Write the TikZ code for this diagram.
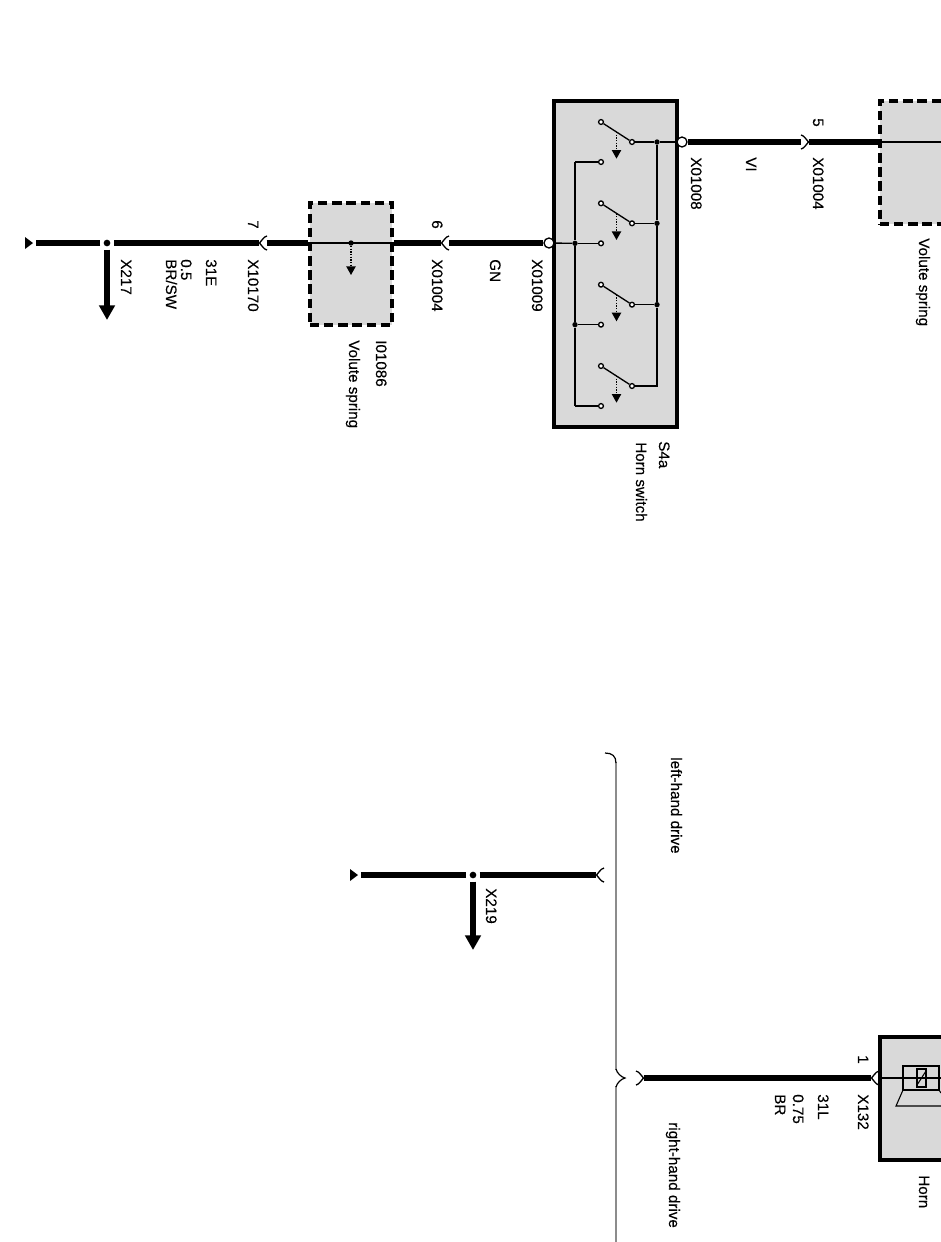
\documentclass[tikz,border=0pt]{standalone}
\usepackage{fontspec}
\setmainfont[FakeBold=0.2]{Liberation Sans}
\usetikzlibrary{positioning}
\usetikzlibrary{arrows.meta}
\usetikzlibrary{shapes.geometric}
\definecolor{boxgray}{gray}{0.85}
\definecolor{bracegray}{gray}{0.55}
\tikzset{
  lbl/.style={rotate=-90,anchor=base west,inner sep=0,font=\fontsize{11.4}{13}\selectfont},
  wire/.style={line width=4.2pt},
  thinwire/.style={line width=1pt},
  solidbox/.style={draw,line width=2.4pt,fill=boxgray,inner sep=0},
  dashbox/.style={draw,line width=2.4pt,fill=boxgray,inner sep=0,dash pattern=on 7pt off 3.6pt},
  ring/.style={circle,draw,fill=white,line width=1pt,inner sep=0,minimum size=7.5pt},
  contact/.style={circle,draw,fill=white,line width=1pt,inner sep=0,minimum size=3.6pt},
  junction/.style={circle,fill,inner sep=0,minimum size=4pt},
  tdot/.style={circle,fill,inner sep=0,minimum size=5pt,outer sep=2.5pt},
  fork/.style={circle,inner sep=0,minimum size=5.2pt},
  endtri/.style={isosceles triangle,isosceles triangle stretches,fill,inner sep=0,
    minimum width=9pt,minimum height=6pt,outer sep=0.8pt},
  bigarrow/.style={-{Triangle[length=11pt,width=11.5pt]},line width=3.8pt},
  smallarrow/.style={-{Triangle[length=6.5pt,width=7pt]},line width=1pt,densely dotted},
  pics/forkmark/.style={code={
    \draw[line width=1pt] (-4,-7) .. controls (0,-6) and (1,-2) .. (3.5,0)
      .. controls (1,2) and (0,6) .. (-4,7);}},
}
\begin{document}
\begin{tikzpicture}[x=0.75pt,y=-0.75pt,on grid]
   \useasboundingbox (0,0) rectangle (941,1242);
   \clip (0,0) rectangle (941,1242);
   % boxes
   \node[solidbox,minimum width=92.25pt,minimum height=244.5pt] (sw_box) at (615.5,264) {};
   \node[dashbox,minimum width=61.5pt,minimum height=92.25pt] (vol_a) at (921,162.5) {};
   \node[dashbox,minimum width=61.5pt,minimum height=91.5pt] (vol_b) at (351,264) {};
   \node[solidbox,minimum width=92.25pt,minimum height=92.25pt] (horn_box) at (941.5,1098.5) {};
   % connectors of the upper wire
   \node[ring] (x_01008) at (682,142) {};
   \node[fork] (x_01004a) [right=92.25pt of x_01008] {};
   \pic at (x_01004a) {forkmark};
   % connectors of the lower wire
   \node[ring] (x_01009) at (549,243) {};
   \node[fork] (x_01004b) [left=78pt of x_01009] {};
   \node[fork] (x_10170) [left=136.5pt of x_01004b] {};
   \node[tdot] (x_217) [left=117pt of x_10170] {};
   \node[endtri] (end_a) at (28,243) {};
   \pic[rotate=180] at (x_01004b) {forkmark};
   \pic[rotate=180] at (x_10170) {forkmark};
   \coordinate (x_217a) at (107,320);
   % left-hand drive
   \node[endtri] (end_b) at (353,875) {};
   \node[tdot] (x_219) at (473,875) {};
   \node[fork] (lhd) at (600,875) {};
   \pic[rotate=180] at (lhd) {forkmark};
   \coordinate (x_219a) at (473,950);
   % right-hand drive
   \node[fork] (rhd) at (640,1078) {};
   \node[fork] (x_132) at (875,1078) {};
   \pic at (rhd) {forkmark};
   \pic[rotate=180] at (x_132) {forkmark};
   % switch
   \node[contact] (c_1) at (632,142) {};
   \node[contact] (c_2) [below=61pt of c_1] {};
   \node[contact] (c_3) [below=61pt of c_2] {};
   \node[contact] (c_4) [below=61pt of c_3] {};
   \node[contact] (u_1) [above left=15pt and 23.25pt of c_1] {};
   \node[contact] (u_2) [above left=15pt and 23.25pt of c_2] {};
   \node[contact] (u_3) [above left=15pt and 23.25pt of c_3] {};
   \node[contact] (u_4) [above left=15pt and 23.25pt of c_4] {};
   \node[contact] (l_1) [below left=15pt and 23.25pt of c_1] {};
   \node[contact] (l_2) [below left=15pt and 23.25pt of c_2] {};
   \node[contact] (l_3) [below left=15pt and 23.25pt of c_3] {};
   \node[contact] (l_4) [below left=15pt and 23.25pt of c_4] {};
   \node[junction] (r_1) [right=18.75pt of c_1] {};
   \node[junction] (r_2) [right=18.75pt of c_2] {};
   \node[junction] (r_3) [right=18.75pt of c_3] {};
   \coordinate (r_4) at (c_4 -| r_1);
   \coordinate (b_1) at (575,162);
   \node[junction] (b_2) at (b_1 |- l_2) {};
   \node[junction] (b_3) at (b_1 |- l_3) {};
   \coordinate (b_4) at (b_1 |- l_4);
   \path (c_1) -- coordinate (m_1) (u_1);
   \path (c_2) -- coordinate (m_2) (u_2);
   \path (c_3) -- coordinate (m_3) (u_3);
   \path (c_4) -- coordinate (m_4) (u_4);
   \coordinate[below=20pt of m_1] (a_1);
   \coordinate[below=20pt of m_2] (a_2);
   \coordinate[below=20pt of m_3] (a_3);
   \coordinate[below=20pt of m_4] (a_4);
   % thick wires
   \path[wire]
    (x_01008) edge (x_01004a)
    (x_01004a) edge (x_01004a -| vol_a.west)
    (x_01009) edge (x_01004b)
    (x_01004b) edge (x_01004b -| vol_b.east)
    (x_10170) edge (x_10170 -| vol_b.west)
    (x_10170) edge (x_217)
    (x_217) edge (end_a)
    (end_b) edge (x_219)
    (x_219) edge (lhd)
    (rhd) edge (x_132);
   \draw[bigarrow] (x_217) -- (x_217a);
   \draw[bigarrow] (x_219) -- (x_219a);
   % thin wires
   \path[thinwire]
    (x_01008) edge (r_1)
    (r_1) edge (c_1)
    (r_1) edge (r_2)
    (r_2) edge (r_3)
    (r_2) edge (c_2)
    (r_3) edge (c_3)
    (c_1) edge (u_1)
    (c_2) edge (u_2)
    (c_3) edge (u_3)
    (c_4) edge (u_4)
    (l_1) edge (b_1)
    (l_2) edge (b_2)
    (l_3) edge (b_3)
    (l_4) edge (b_4)
    (x_01009) edge (b_2)
    (b_1) edge (b_2)
    (b_2) edge (b_3)
    (b_3) edge (b_4);
   \draw[thinwire] (c_4) -- (r_4) -- (r_3);
   \draw[smallarrow] (m_1) -- (a_1);
   \draw[smallarrow] (m_2) -- (a_2);
   \draw[smallarrow] (m_3) -- (a_3);
   \draw[smallarrow] (m_4) -- (a_4);
   % inside the volute springs
   \draw[thinwire] (x_01004a -| vol_a.west) -- (941,142);
   \draw[thinwire] (x_10170 -| vol_b.west) -- (x_10170 -| vol_b.east);
   \node[junction] (vol_dot) at (351,243) {};
   \coordinate[below=24pt of vol_dot] (vol_end);
   \draw[smallarrow] (vol_dot) -- (vol_end);
   % horn
   \draw[thinwire] (x_132) -- (941,1078);
   \draw[line width=0.8pt] (903,1066) rectangle (939,1090);
   \draw[line width=0.8pt] (917,1069) rectangle (926,1087);
   \draw[line width=0.8pt] (917,1085) -- (926,1071);
   \draw[line width=0.8pt] (903,1090) -- (896,1106) -- (941,1106);
   \draw[line width=0.8pt] (939,1090) -- (941,1093);
   % brace
   \draw[line width=1.2pt,bracegray] (616,762) -- (616,1070);
   \draw[line width=1.2pt,bracegray] (616,1086) -- (616,1242);
   \draw[line width=0.9pt] (605,753) .. controls (612,753) and (616,756) .. (616,763);
   \draw[line width=0.9pt] (616,1069) .. controls (617,1073) and (621,1077) .. (625,1078)
     .. controls (621,1079) and (617,1083) .. (616,1087);
   % labels
   \node[lbl] (t_5) at (813,118) {5};
   \node[lbl] (t_x01008) at (691,157) {X01008};
   \node[lbl] (t_vi) at (746,157) {VI};
   \node[lbl] (t_x01004a) at (813,157) {X01004};
   \node[lbl] (t_vola) at (919,238) {Volute spring};
   \node[lbl] (t_7) at (248,220) {7};
   \node[lbl] (t_x10170) at (248,259) {X10170};
   \node[lbl] (t_31e) at (206,259) {31E};
   \node[lbl] (t_05) at (181,259) {0.5};
   \node[lbl] (t_brsw) at (166,259) {BR/SW};
   \node[lbl] (t_x217) at (121,259) {X217};
   \node[lbl] (t_i01086) at (376,340) {I01086};
   \node[lbl] (t_volb) at (349,340) {Volute spring};
   \node[lbl] (t_6) at (432,220) {6};
   \node[lbl] (t_x01004b) at (432,259) {X01004};
   \node[lbl] (t_gn) at (490,259) {GN};
   \node[lbl] (t_x01009) at (532,259) {X01009};
   \node[lbl] (t_s4a) at (659,441) {S4a};
   \node[lbl] (t_hsw) at (636,442) {Horn switch};
   \node[lbl] (t_x219) at (486,888) {X219};
   \node[lbl] (t_lhd) at (671,757) {left-hand drive};
   \node[lbl] (t_rhd) at (669,1122) {right-hand drive};
   \node[lbl] (t_1) at (858,1055) {1};
   \node[lbl] (t_x132) at (858,1094) {X132};
   \node[lbl] (t_31l) at (818,1094) {31L};
   \node[lbl] (t_075) at (793,1094) {0.75};
   \node[lbl] (t_br) at (775,1094) {BR};
   \node[lbl] (t_horn) at (919,1175) {Horn};
\end{tikzpicture}
\end{document}
